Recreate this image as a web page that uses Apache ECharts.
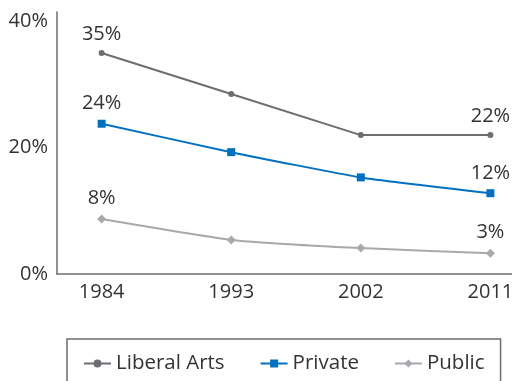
<!DOCTYPE html>
<html>
<head>
<meta charset="utf-8">
<script src="https://cdn.jsdelivr.net/npm/echarts@6/dist/echarts.min.js"></script>
<style>
  html, body { margin: 0; padding: 0; background: #fff; }
  #chart { width: 512px; height: 381px; }
</style>
</head>
<body>
<div id="chart"></div>
<script>
// 数据
const years = [1984, 1993, 2002, 2011]
const liberalArts = [35, 28.5, 22, 22]
const privateSchools = [23.8, 19.3, 15.3, 12.8]
const publicSchools = [8.7, 5.4, 4.1, 3.3]
// 只在首尾标注
const liberalLabels = ['35%', '', '', '22%']
const privateLabels = ['24%', '', '', '12%']
const publicLabels = ['8%', '', '', '3%']
const yTicks = [0, 20, 40]

const fontFamily = 'Open Sans'
const textColor = '#333333'

function pairs(values) {
  return years.map((y, i) => [y, values[i]])
}

function lineSeries(name, values, labels, color, symbol, size, smooth) {
  return {
    name: name,
    type: 'line',
    data: pairs(values),
    smooth: smooth,
    symbol: symbol,
    symbolSize: size,
    lineStyle: { color: color, width: 2 },
    itemStyle: { color: color },
    label: {
      show: true,
      position: 'top',
      distance: 6,
      fontFamily: fontFamily,
      fontSize: 20,
      color: textColor,
      formatter: p => labels[p.dataIndex]
    }
  }
}

let chart = echarts.init(document.getElementById('chart'))
chart.setOption({
  animation: false,
  textStyle: { fontFamily: fontFamily },
  grid: { left: 57, right: 0, top: 12, bottom: 107, outerBoundsMode: 'none' },
  legend: {
    left: 67,
    top: 339,
    padding: [14, 16, 40, 16],
    borderColor: '#6d6e71',
    borderWidth: 1.5,
    itemWidth: 27,
    itemHeight: 10,
    itemGap: 35,
    textStyle: { fontFamily: fontFamily, fontSize: 20.5, color: textColor },
    data: ['Liberal Arts', 'Private', 'Public']
  },
  xAxis: {
    type: 'value',
    min: 1980.9,
    max: 2012.5,
    splitLine: { show: false },
    axisLine: { show: true, lineStyle: { color: '#6d6e71', width: 1.5 } },
    axisTick: { show: false },
    axisLabel: {
      customValues: years,
      formatter: v => String(v),
      margin: 8,
      fontSize: 20,
      color: textColor,
      fontFamily: fontFamily
    }
  },
  yAxis: {
    type: 'value',
    min: 0,
    max: 41.5,
    splitLine: { show: false },
    axisLine: { show: true, lineStyle: { color: '#6d6e71', width: 1.5 } },
    axisTick: { show: false },
    axisLabel: {
      customValues: yTicks,
      formatter: v => v + '%',
      margin: 9,
      fontSize: 20,
      color: textColor,
      fontFamily: fontFamily
    }
  },
  series: [
    lineSeries('Liberal Arts', liberalArts, liberalLabels, '#6d6e71', 'circle', 6, false),
    lineSeries('Private', privateSchools, privateLabels, '#0070c0', 'rect', 8, 0.15),
    lineSeries('Public', publicSchools, publicLabels, '#a7a9ac', 'diamond', 9, 0.15)
  ]
})
</script>
</body>
</html>
